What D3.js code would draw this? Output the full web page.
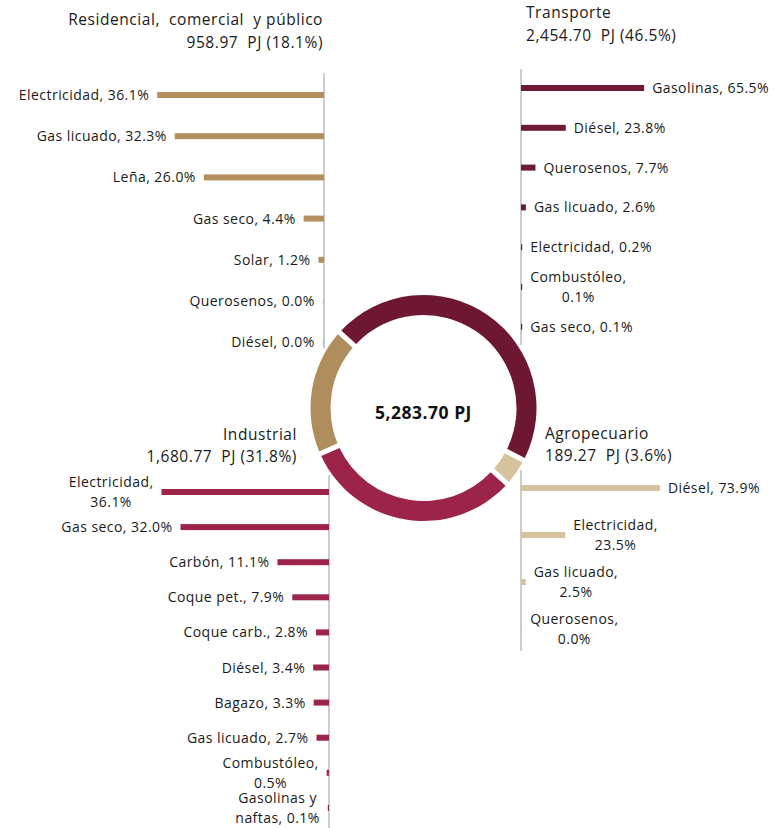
<!DOCTYPE html>
<html>
<head>
<meta charset="utf-8">
<script src="https://cdn.jsdelivr.net/npm/d3@7"></script>
<style>
  html, body { margin: 0; padding: 0; background: #fff; }
  svg { display: block; font-family: "Open Sans", "Noto Sans", sans-serif; }
  .pre { white-space: pre; }
</style>
</head>
<body>
<svg id="chart" width="776" height="828"></svg>
<script>
// ---- Data ----
const sectorNames = ["Transporte", "Agropecuario", "Industrial", "Residencial,  comercial  y público"];
const sectorPJ = [2454.70, 189.27, 1680.77, 958.97];
const sectorPct = [46.5, 3.6, 31.8, 18.1];
const totalPJ = "5,283.70 PJ";

const resNames = ["Electricidad", "Gas licuado", "Leña", "Gas seco", "Solar", "Querosenos", "Diésel"];
const resValues = [36.1, 32.3, 26.0, 4.4, 1.2, 0.0, 0.0];
const resWrap = [false, false, false, false, false, false, false];

const traNames = ["Gasolinas", "Diésel", "Querosenos", "Gas licuado", "Electricidad", "Combustóleo", "Gas seco"];
const traValues = [65.5, 23.8, 7.7, 2.6, 0.2, 0.1, 0.1];
const traWrap = [false, false, false, false, false, true, false];

const agrNames = ["Diésel", "Electricidad", "Gas licuado", "Querosenos"];
const agrValues = [73.9, 23.5, 2.5, 0.0];
const agrWrap = [false, true, true, true];

const indNames = ["Electricidad", "Gas seco", "Carbón", "Coque pet.", "Coque carb.", "Diésel", "Bagazo", "Gas licuado", "Combustóleo", "Gasolinas y\nnaftas"];
const indValues = [36.1, 32.0, 11.1, 7.9, 2.8, 3.4, 3.3, 2.7, 0.5, 0.1];
const indWrap = [true, false, false, false, false, false, false, false, true, true];

// ---- Styles ----
const colors = { tra: "#6f1a32", agr: "#d6c29c", ind: "#9d2449", res: "#b48f5e" };
const svg = d3.select("#chart");
const fmtPJ = d3.format(",.2f");
const fmtPct = d3.format(".1f");

// ---- Donut ----
const cx = 423.5, cy = 408;
const start = -48 * Math.PI / 180;
const pie = d3.pie().sort(null).value(d => d).startAngle(start).endAngle(start + 2 * Math.PI).padAngle(0.035);
const arc = d3.arc().innerRadius(93).outerRadius(113);
const donutFill = ["#6d1730", "#d6c29c", "#9d2449", "#b08d5c"];
svg.append("g").attr("transform", `translate(${cx},${cy})`)
  .selectAll("path").data(pie(sectorPJ)).join("path")
  .attr("d", arc).attr("fill", (d, i) => donutFill[i]);
svg.append("text").attr("x", cx).attr("y", cy + 11).attr("text-anchor", "middle")
  .attr("font-size", 17.5).attr("font-weight", 700).attr("letter-spacing", 0.5)
  .attr("fill", "#111").text(totalPJ);

// ---- Panels ----
function panel(opts) {
  const { names, values, wrap, axisX, y0, step, pxPerPct, dir, color, axisTop, axisBottom } = opts;
  const g = svg.append("g");
  const x = d3.scaleLinear().domain([0, 100]).range([0, 100 * pxPerPct]);
  const y = d3.scalePoint().domain(d3.range(names.length)).range([y0, y0 + step * (names.length - 1)]);
  g.append("line").attr("x1", axisX).attr("x2", axisX).attr("y1", axisTop).attr("y2", axisBottom)
    .attr("stroke", "#9a9a9a").attr("stroke-width", 1);
  names.forEach((n, i) => {
    const w = Math.max(x(values[i]), 1.2);
    const barH = 6;
    g.append("rect")
      .attr("x", dir > 0 ? axisX : axisX - w)
      .attr("y", y(i) - barH / 2).attr("width", w).attr("height", barH)
      .attr("fill", color).attr("opacity", values[i] === 0 ? 0.35 : 1);
    const pct = fmtPct(values[i]) + "%";
    let lines;
    if (wrap[i]) {
      if (n.includes("\n")) { const p = n.split("\n"); lines = [p[0], p[1] + ", " + pct]; }
      else lines = [n + ",", pct];
    } else lines = [n + ", " + pct];
    const edge = dir > 0 ? axisX + w + 8 : axisX - w - 8;
    const t = g.append("text").attr("font-size", 14).attr("letter-spacing", 0.45).attr("fill", "#1a1a1a");
    const lh = 19.5;
    const ys = lines.length === 1 ? [y(i) + 5] : [y(i) - lh / 2 + 5, y(i) + lh / 2 + 5];
    const spans = lines.map((l, k) => t.append("tspan").attr("y", ys[k]).text(l));
    const widths = spans.map(s => s.node().getComputedTextLength());
    const maxW = d3.max(widths);
    if (lines.length === 1) {
      spans[0].attr("x", edge).attr("text-anchor", dir > 0 ? "start" : "end");
    } else {
      const center = dir > 0 ? edge + maxW / 2 : edge - maxW / 2;
      spans.forEach(s => s.attr("x", center).attr("text-anchor", "middle"));
    }
  });
}
function title(lines, x, ys, anchor) {
  const t = svg.append("text").attr("class", "pre").attr("font-size", 15.5).attr("letter-spacing", 0.55)
    .attr("fill", "#1a1a1a").attr("text-anchor", anchor);
  lines.forEach((l, k) => t.append("tspan").attr("x", x).attr("y", ys[k]).text(l));
}
const sub = i => `${fmtPJ(sectorPJ[i])}  PJ (${fmtPct(sectorPct[i])}%)`;

// Residencial (top-left)
title([sectorNames[3], sub(3)], 323, [25, 48], "end");
panel({ names: resNames, values: resValues, wrap: resWrap, axisX: 324, y0: 95, step: 41.2, pxPerPct: 4.62, dir: -1, color: colors.res, axisTop: 73, axisBottom: 348 });

// Transporte (top-right)
title([sectorNames[0], sub(0)], 526, [18, 41], "start");
panel({ names: traNames, values: traValues, wrap: traWrap, axisX: 521, y0: 88, step: 39.8, pxPerPct: 1.88, dir: 1, color: colors.tra, axisTop: 69, axisBottom: 345 });

// Agropecuario (bottom-right)
title([sectorNames[1], sub(1)], 545, [439, 461], "start");
panel({ names: agrNames, values: agrValues, wrap: agrWrap, axisX: 521, y0: 488, step: 47, pxPerPct: 1.88, dir: 1, color: colors.agr, axisTop: 470, axisBottom: 651 });

// Industrial (bottom-left)
title([sectorNames[2], sub(2)], 297, [440, 462], "end");
panel({ names: indNames, values: indValues, wrap: indWrap, axisX: 329, y0: 492, step: 35.1, pxPerPct: 4.64, dir: -1, color: colors.ind, axisTop: 475, axisBottom: 828 });
</script>
</body>
</html>
